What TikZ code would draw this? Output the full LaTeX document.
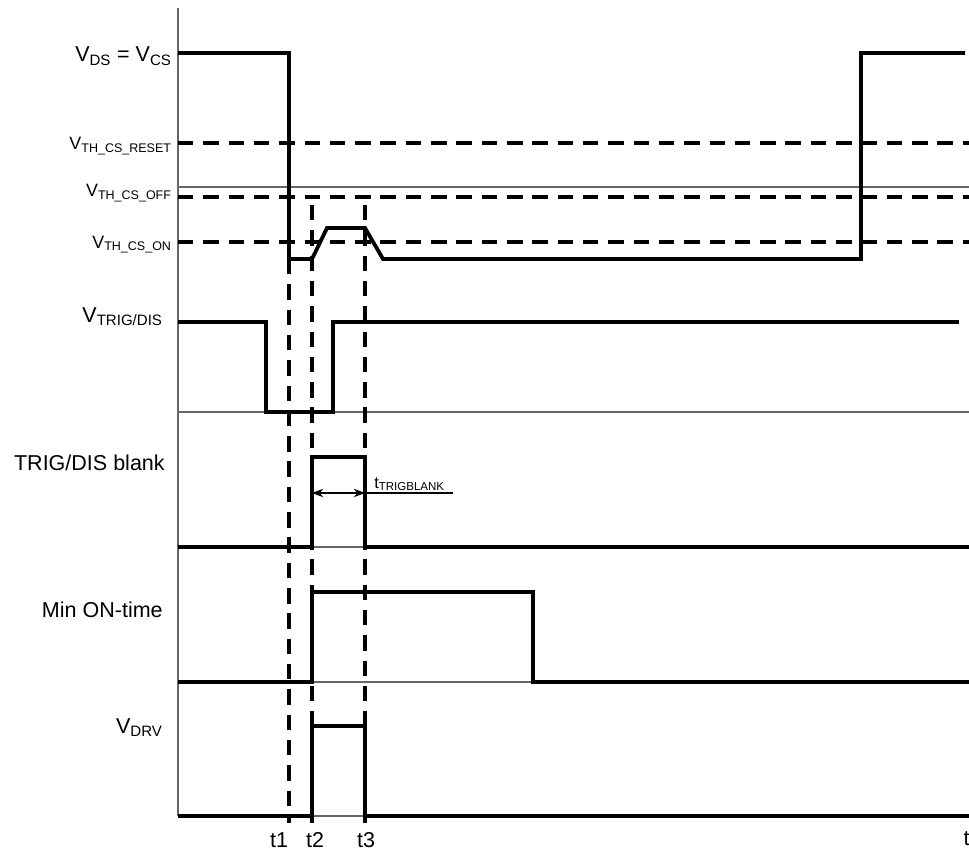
\documentclass[tikz,border=0pt]{standalone}
\usepackage{fontspec}
\setmainfont{Liberation Sans}
\usetikzlibrary{arrows.meta}

\tikzset{
  sig/.style={line width=2.7pt},
  thr/.style={line width=2.5pt,dash pattern=on 11pt off 7pt},
  tmark/.style={line width=2.5pt,dash pattern=on 11pt off 7pt},
  guide/.style={line width=0.8pt,black!60},
  lbl/.style={anchor=base east,inner sep=0pt,font=\fontsize{15.3}{18}\selectfont},
  thlbl/.style={anchor=base east,inner sep=0pt,font=\fontsize{12.7}{15}\selectfont},
  tlbl/.style={anchor=base,inner sep=0pt,font=\fontsize{15.3}{18}\selectfont}
}

\begin{document}
\begin{tikzpicture}[x=0.025cm,y=-0.025cm]
  \useasboundingbox (0,0) rectangle (969,854);

  % axis and baselines
  \draw[guide] (178,8) -- (178,816);
  \foreach \y in {187,412,547,682,816}
    \draw[guide] (178,\y) -- (969,\y);

  % thresholds
  \foreach \y in {143,197,242}
    \draw[thr] (178,\y) -- (969,\y);

  % time markers
  \coordinate (t1top) at (289,259);
  \coordinate (t1bot) at (289,823);
  \coordinate (t2top) at (312,205);
  \coordinate (t2bot) at (312,823);
  \coordinate (t3top) at (365,205);
  \coordinate (t3bot) at (365,823);
  \draw[tmark] (t1top) -- (t1bot);
  \draw[tmark] (t2top) -- (t2bot);
  \draw[tmark] (t3top) -- (t3bot);

  % signals
  \draw[sig] (178,53) -- (289,53) -- (289,259) -- (312,259) -- (327,228)
    -- (365,228) -- (383,259) -- (861,259) -- (861,53) -- (965,53);
  \draw[sig] (178,322) -- (266,322) -- (266,412) -- (333,412) -- (333,322) -- (959,322);
  \draw[sig] (178,547) -- (312,547) -- (312,457) -- (365,457) -- (365,547) -- (969,547);
  \draw[sig] (178,682) -- (312,682) -- (312,592) -- (533,592) -- (533,682) -- (969,682);
  \draw[sig] (178,816) -- (312,816) -- (312,726) -- (365,726) -- (365,816) -- (969,816);

  % blanking time
  \coordinate (blL) at (312,493);
  \coordinate (blR) at (365,493);
  \coordinate (blE) at (453,493);
  \draw[line width=0.8pt,{Stealth[length=8pt,width=6pt]}-{Stealth[length=8pt,width=6pt]}] (blL) -- (blR);
  \draw[line width=0.8pt] (blR) -- (blE);
  \node[anchor=base west,inner sep=0pt,font=\fontsize{11.7}{14}\selectfont] (tblank) at (374,488)
    {t\textsubscript{TRIGBLANK}};

  % labels
  \node[lbl] (vds) at (172,62) {V\textsubscript{DS} = V\textsubscript{CS}};
  \node[thlbl] (vreset) at (172,150) {V\textsubscript{TH\_CS\_RESET}};
  \node[thlbl] (voff) at (172,197) {V\textsubscript{TH\_CS\_OFF}};
  \node[thlbl] (von) at (172,248) {V\textsubscript{TH\_CS\_ON}};
  \node[lbl] (vtrig) at (163,322) {V\textsubscript{TRIG/DIS}};
  \node[lbl] (blank) at (165,470) {TRIG/DIS blank};
  \node[lbl] (minon) at (163,617) {Min ON-time};
  \node[lbl] (vdrv) at (163,733) {V\textsubscript{DRV}};

  % time labels
  \node[tlbl] (lt1) at (279,847) {t1};
  \node[tlbl] (lt2) at (315,847) {t2};
  \node[tlbl] (lt3) at (366,847) {t3};
  \node[lbl] (lt) at (970,845) {t};
\end{tikzpicture}
\end{document}
